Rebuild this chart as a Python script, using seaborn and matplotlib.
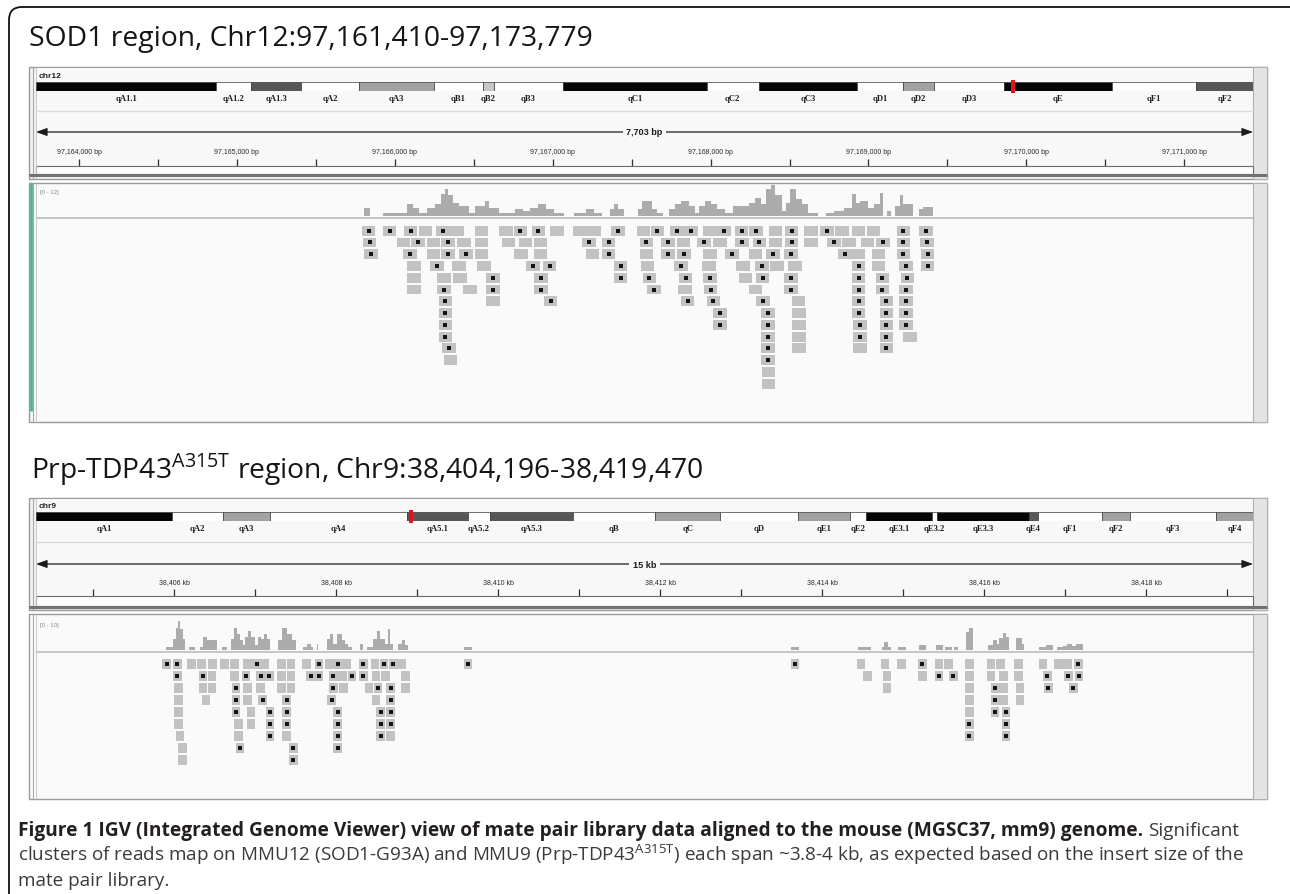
import matplotlib
matplotlib.use("Agg")
import matplotlib.pyplot as plt
from matplotlib.patches import Rectangle, FancyBboxPatch
import numpy as np
import pandas as pd
import seaborn as sns

sns.set_theme(style="white")
plt.rcParams["font.family"] = ["Open Sans", "DejaVu Sans"]

# ============================ DATA ============================
# ---------- Panel 1 : SOD1 region, chr12 ----------
p1_title = "SOD1 region, Chr12:97,161,410-97,173,779"
p1_chrom = "chr12"
p1_band_names = ["qA1.1", "qA1.2", "qA1.3", "qA2", "qA3", "qB1", "qB2", "qB3", "qC1",
                 "qC2", "qC3", "qD1", "qD2", "qD3", "qE", "qF1", "qF2"]
p1_band_ends = [14.8, 17.7, 21.8, 26.5, 32.7, 36.7, 37.6, 43.3, 55.1,
                59.4, 67.5, 71.2, 73.8, 79.5, 88.4, 95.3, 100.0]          # % of chromosome
p1_band_stain = ["gpos100", "gneg", "gpos75", "gneg", "gpos50", "gneg", "gpos33", "gneg", "gpos100",
                 "gneg", "gpos100", "gneg", "gpos50", "gneg", "gpos100", "gneg", "gpos75"]
p1_view_pct = 80.3
# genomic positions: bp after 97,165,000
p1_view = [-1272, 6435]
p1_span_label = "7,703 bp"
p1_major_ticks = [-1000, 0, 1000, 2000, 3000, 4000, 5000, 6000]
p1_tick_labels = ["97,164,000 bp", "97,165,000 bp", "97,166,000 bp", "97,167,000 bp",
                  "97,168,000 bp", "97,169,000 bp", "97,170,000 bp", "97,171,000 bp"]
p1_minor_ticks = [-500, 500, 1500, 2500, 3500, 4500, 5500]
p1_cov_label = "[0 - 12]"
p1_cov_max = 12
p1_cov_edges = [804, 841, 924, 1080, 1118, 1156, 1201, 1256, 1294, 1319,
                1337, 1369, 1407, 1470, 1507, 1570, 1595, 1658, 1759, 1809,
                1859, 1910, 1960, 2010, 2073, 2136, 2211, 2261, 2312, 2362,
                2387, 2412, 2450, 2538, 2563, 2626, 2663, 2701, 2739, 2776,
                2814, 2864, 2902, 2927, 2965, 3003, 3040, 3091, 3141, 3241,
                3279, 3317, 3354, 3380, 3405, 3455, 3480, 3505, 3538, 3581,
                3618, 3681, 3731, 3782, 3845, 3895, 3920, 3945, 3995, 4033,
                4071, 4091, 4116, 4141, 4171, 4201, 4221, 4284, 4322, 4347, 4410]
p1_cov_depth = [3, 0, 1, 4.5, 3, 1, 3, 4.5, 8.5, 10.5,
                8, 5, 4, 1.3, 4, 6, 3, 1.3, 2.6, 2,
                3, 4.5, 2.6, 1.3, 0, 1, 2.6, 1.3, 0, 2.6,
                4.5, 2.6, 0, 2.6, 6, 2.6, 1.3, 0, 2.6, 4.5,
                6, 4, 1.3, 4, 6, 4.5, 2.6, 1.3, 4, 5,
                7, 4.5, 10.5, 12, 8, 2, 5, 10.5, 6.5, 4.5,
                1.3, 0, 1.3, 2, 3, 8.5, 5, 6, 3, 4.5,
                9, 0, 2, 0, 4, 8, 4.5, 0, 2.6, 3.6]
p1_read_len = 86
# read centres per packed row, and whether the read carries a mismatch mark
p1_reads = [
    [834, 967, 1100, 1195, 1306, 1394, 1550, 1703, 1796, 1910, 2028, 2173, 2261, 2412, 2575, 2663,
     2789, 2877, 2995, 3085, 3196, 3287, 3410, 3513, 3636, 3739, 3832, 3938, 4033, 4221, 4365],
    [841, 1055, 1148, 1244, 1337, 1437, 1550, 1721, 1827, 1922, 2229, 2354, 2593, 2731, 2829, 2957,
     3058, 3199, 3309, 3410, 3513, 3636, 3782, 3877, 3995, 4091, 4221, 4372],
    [849, 1098, 1244, 1337, 1450, 1550, 1801, 1922, 2251, 2354, 2593, 2731, 2832, 2995, 3136, 3284,
     3397, 3510, 3850, 3938, 4063, 4221, 4375],
    [1123, 1269, 1407, 1565, 1877, 1980, 2430, 2601, 2814, 2990, 3204, 3324, 3422, 3535, 3938, 4063,
     4239, 4375],
    [1123, 1311, 1412, 1621, 1927, 2430, 2613, 2842, 2995, 3221, 3329, 3510, 3938, 4088, 4247],
    [1123, 1311, 1475, 1621, 1927, 2641, 2839, 3000, 3284, 3510, 3938, 4088, 4239],
    [1321, 1623, 1987, 2854, 3018, 3332, 3556, 3938, 4113, 4239],
    [1321, 3060, 3362, 3561, 3938, 4113, 4239],
    [1321, 3060, 3362, 3561, 3945, 4113, 4239],
    [1321, 3362, 3561, 3945, 4113, 4264],
    [1344, 3362, 3561, 3945, 4113],
    [1352, 3362],
    [3367],
    [3367],
]
p1_marks = [
    [1, 1, 1, 0, 1, 0, 0, 0, 1, 1, 0, 0, 0, 1, 0, 1, 1, 1, 0, 1, 1, 1, 0, 1, 0, 1, 0, 0, 0, 1, 1],
    [1, 0, 1, 0, 1, 0, 0, 0, 0, 0, 1, 1, 1, 1, 0, 1, 0, 1, 1, 0, 1, 0, 1, 0, 0, 1, 1, 1],
    [1, 1, 0, 1, 1, 0, 0, 0, 0, 1, 0, 1, 1, 0, 1, 0, 1, 1, 1, 0, 0, 1, 1],
    [0, 1, 0, 0, 1, 1, 1, 0, 1, 0, 0, 1, 0, 0, 1, 0, 1, 1],
    [0, 0, 0, 1, 1, 1, 1, 1, 1, 0, 1, 1, 1, 1, 1],
    [0, 1, 0, 1, 1, 1, 0, 1, 0, 1, 1, 1, 1],
    [1, 0, 1, 1, 1, 1, 0, 1, 1, 1],
    [1, 1, 1, 0, 1, 1, 1],
    [1, 1, 1, 0, 1, 1, 1],
    [1, 1, 0, 1, 1, 0],
    [1, 1, 0, 0, 1],
    [0, 1],
    [0],
    [0],
]

# ---------- Panel 2 : Prp-TDP43 A315T region, chr9 ----------
p2_title = r"Prp-TDP43$^{\mathregular{A315T}}$ region, Chr9:38,404,196-38,419,470"
p2_chrom = "chr9"
p2_band_names = ["qA1", "qA2", "qA3", "qA4", "qA5.1", "qA5.2", "qA5.3", "qB", "qC", "qD",
                 "qE1", "qE2", "qE3.1", "qE3.2", "qE3.3", "qE4", "qF1", "qF2", "qF3", "qF4"]
p2_band_ends = [11.2, 15.4, 19.2, 30.5, 35.5, 37.3, 44.1, 50.9, 56.2, 62.6,
                66.9, 68.2, 73.6, 74.0, 81.6, 82.3, 87.6, 89.9, 97.0, 100.0]
p2_band_stain = ["gpos100", "gneg", "gpos50", "gneg", "gpos75", "gneg", "gpos75", "gneg", "gpos50", "gneg",
                 "gpos50", "gneg", "gpos100", "gneg", "gpos100", "gpos75", "gneg", "gpos50", "gneg", "gpos50"]
p2_view_pct = 30.8
# genomic positions: bp after 38,404,000
p2_view = [296, 15321]
p2_span_label = "15 kb"
p2_major_ticks = [2000, 4000, 6000, 8000, 10000, 12000, 14000]
p2_tick_labels = ["38,406 kb", "38,408 kb", "38,410 kb", "38,412 kb",
                  "38,414 kb", "38,416 kb", "38,418 kb"]
p2_minor_ticks = [1000, 3000, 5000, 7000, 9000, 11000, 13000, 15000]
p2_cov_label = "[0 - 10]"
p2_cov_max = 10
p2_cov_edges = [1901, 1992, 2024, 2053, 2074, 2107, 2136, 2189, 2259, 2321,
                2354, 2403, 2465, 2526, 2588, 2658, 2699, 2740, 2773, 2815,
                2847, 2876, 2917, 2950, 3000, 3033, 3070, 3111, 3144, 3185,
                3288, 3329, 3391, 3452, 3506, 3596, 3638, 3687, 3720, 3761,
                3782, 3884, 3926, 3967, 4008, 4070, 4111, 4152, 4193, 4296,
                4337, 4378, 4461, 4502, 4543, 4605, 4637, 4666, 4707, 4769,
                4810, 4851, 4893, 5580, 5680,
                9618, 9716, 10449, 10605, 10737, 10766, 10819, 10848, 10943, 11033,
                11202, 11284, 11408, 11490, 11519, 11601, 11634, 11683, 11774, 11819,
                11869, 12054, 12116, 12157, 12190, 12231, 12272, 12313, 12395, 12465,
                12494, 12683, 12766, 12856, 12897, 12980, 13029, 13083, 13136, 13218]
p2_cov_depth = [1, 3.4, 7, 9, 6.5, 3.5, 0, 1, 0, 1,
                4, 3, 3, 0, 1, 0, 3.5, 7, 5, 3,
                1.5, 4, 6, 4, 1.5, 4, 3.5, 5, 3.5, 0,
                3, 7, 5, 3, 0, 1, 2, 1, 0, 2,
                0, 3.5, 5, 2, 5, 3, 2, 1, 0, 2,
                0, 1, 3.5, 6, 3.5, 2, 6.5, 2, 0, 2,
                3, 1.5, 0, 1, 0,
                1, 0, 1, 0, 1, 2.6, 1, 0, 1, 0,
                1.6, 0, 1.6, 0, 1, 0, 1, 0, 5.5, 7,
                0, 1.6, 3, 1.8, 3.6, 5.2, 4.2, 0, 3.6, 1.8,
                0, 1, 1.6, 0, 1, 1.4, 1.8, 1.4, 1.8]
p2_read_len = 104
p2_reads = [
    [1909, 2041, 2218, 2341, 2477, 2621, 2745, 2905, 3020, 3123, 3329, 3444, 3638, 3790, 3917, 4024,
     4131, 4337, 4480, 4595, 4700, 4810, 5630, 9667, 10482, 10778, 10984, 11239, 11445, 11560, 11819,
     12087, 12206, 12424, 12725, 12920, 13030, 13165],
    [2041, 2360, 2470, 2745, 2889, 3070, 3177, 3329, 3444, 3687, 3790, 3967, 4082, 4197, 4337, 4493,
     4613, 4860, 10560, 10799, 11239, 11445, 11622, 11819, 12087, 12239, 12424, 12782, 13041, 13173],
    [2053, 2360, 2470, 2765, 2905, 3070, 3329, 3444, 3967, 4090, 4405, 4515, 4674, 4860, 10799, 11819,
     12136, 12239, 12445, 12794, 13103],
    [2053, 2395, 2765, 2905, 3094, 3391, 3946, 4493, 4674, 11819, 12136, 12239, 12445],
    [2053, 2765, 2950, 3185, 3391, 4020, 4551, 4674, 11819, 12136, 12268],
    [2053, 2794, 2950, 3185, 3391, 4020, 4551, 4674, 11819, 12268],
    [2074, 2794, 3185, 3391, 4020, 4551, 4674, 11819, 12268],
    [2103, 2815, 3473, 4020],
    [2103, 3473],
]
p2_marks = [
    [1, 1, 0, 0, 0, 0, 0, 0, 1, 0, 0, 0, 0, 1, 0, 1, 0, 1, 0, 1, 1, 0,
     1, 1, 0, 0, 0, 1, 0, 0, 0, 0, 0, 0, 0, 0, 0, 1],
    [1, 1, 0, 0, 1, 1, 1, 0, 0, 1, 1, 1, 0, 1, 1, 0, 0, 0,
     0, 0, 0, 1, 1, 0, 0, 0, 0, 1, 1, 1],
    [0, 0, 0, 1, 0, 0, 0, 0, 1, 0, 0, 1, 1, 0, 0, 0, 1, 0, 0, 1, 1],
    [0, 0, 1, 0, 1, 1, 1, 0, 1, 0, 1, 0, 0],
    [0, 1, 0, 1, 1, 1, 1, 1, 0, 1, 1],
    [0, 0, 0, 1, 1, 1, 1, 1, 1, 1],
    [0, 0, 1, 0, 1, 1, 0, 1, 1],
    [0, 1, 1, 1],
    [0, 1],
]

# ---------- Caption ----------
cap_bold = ("Figure 1 IGV (Integrated Genome Viewer) view of mate pair library data "
            "aligned to the mouse (MGSC37, mm9) genome.")
cap_line1_rest = "Significant"
cap_line2 = (r"clusters of reads map on MMU12 (SOD1-G93A) and MMU9 (Prp-TDP43$^{\mathregular{A315T}}$) "
             r"each span ~3.8-4 kb, as expected based on the insert size of the")
cap_line3 = "mate pair library."

# ============================ STYLE ============================
W, H = 1290, 895
STAIN = {"gneg": "#ffffff", "gpos33": "#c6c6c6", "gpos50": "#a2a2a2",
         "gpos75": "#575757", "gpos100": "#050505"}
BG_HDR, BG_IN, BG_TRK = "#f2f2f2", "#f8f8f8", "#fafafa"
FRAME = "#9a9a9a"
READ_C, COV_C, MARK_C = "#c2c2c2", "#acacac", "#141414"
IGV_FONT = ["Liberation Sans", "DejaVu Sans"]
SERIF = ["Liberation Serif", "DejaVu Serif"]
TITLE_FONT = ["Open Sans", "DejaVu Sans"]
CAP_FONT = ["Open Sans", "DejaVu Sans"]

fig = plt.figure(figsize=(W / 100, H / 100), dpi=100)
fig.patch.set_facecolor("white")
renderer = fig.canvas.get_renderer()

ov = fig.add_axes([0, 0, 1, 1])
ov.set_xlim(0, W)
ov.set_ylim(H, 0)
ov.set_axis_off()


def px_axes(x0, y0, x1, y1):
    ax = fig.add_axes([x0 / W, 1 - y1 / H, (x1 - x0) / W, (y1 - y0) / H])
    ax.set_axis_off()
    return ax


def hline(y, x0, x1, color, lw):
    ov.plot([x0, x1], [y, y], color=color, lw=lw, solid_capstyle="butt")


def vline(x, y0, y1, color, lw):
    ov.plot([x, x], [y0, y1], color=color, lw=lw, solid_capstyle="butt")


X0, X1 = 36, 1253     # data area of IGV panels (pixels)


def draw_header(g, chrom, names, ends, stain, view_pct, view, major, labels, minor, span_label):
    top, bot = g["top"], g["bot"]
    ov.add_patch(Rectangle((29, top), 1238, bot - top, fc=BG_HDR, ec=FRAME, lw=1.0))
    ov.add_patch(Rectangle((X0, top + 1), X1 - X0, bot - top - 2, fc=BG_IN, ec="none"))
    vline(32.5, top, bot, "#a8a8a8", 0.8)
    vline(35.5, top, bot, "#c4c4c4", 0.6)
    ov.add_patch(Rectangle((X1, top), 1267 - X1, bot - top, fc="#e4e4e4", ec="#b0b0b0", lw=0.8))
    ov.text(39, g["label"], chrom, fontsize=6, fontweight="bold", family=IGV_FONT,
            color="#222222", va="center", ha="left")
    hline(g["sep"], X0, X1, "#dadada", 1.0)
    # ideogram
    ia = px_axes(X0, g["ideo"][0], X1, g["ideo"][1])
    starts = [0.0] + ends[:-1]
    widths = [e - s for s, e in zip(starts, ends)]
    ia.bar(starts, [1] * len(starts), width=widths, bottom=0, align="edge",
           color=[STAIN[s] for s in stain], edgecolor="#3a3a3a", linewidth=0.5)
    for s, w, n in zip(starts, widths, names):
        ia.text(s + w / 2, -0.78, n, ha="center", va="center", fontsize=6.2, fontweight="bold",
                family=SERIF, color="#1e1e1e", clip_on=False)
    mk = ia.bar([view_pct], [1.5], width=0.32, bottom=-0.25, color="#e0141c", linewidth=0, zorder=4)
    for p in mk:
        p.set_clip_on(False)
    ia.set_xlim(0, 100)
    ia.set_ylim(0, 1)
    # ruler
    r0, r1 = g["ruler"]
    ra = px_axes(X0, r0, X1, r1)
    hgt = r1 - r0
    ra.set_xlim(*view)
    ra.set_ylim(0, 1)
    ya = (r1 - g["arrow"]) / hgt
    yl = (r1 - g["tlab"]) / hgt
    tl = 7.0 / hgt
    ra.vlines(major + minor, 0, tl, color="#303030", lw=0.9)
    for p, lab in zip(major, labels):
        ra.text(p, yl, lab, ha="center", va="center", fontsize=5.0, family=IGV_FONT,
                color="#2a2a2a")
    ra.annotate("", xy=(view[1], ya), xytext=(view[0], ya),
                arrowprops=dict(arrowstyle="<|-|>,head_length=0.55,head_width=0.2",
                                lw=0.9, color="#1c1c1c", shrinkA=0, shrinkB=0))
    ra.text((view[0] + view[1]) / 2, ya, span_label, ha="center", va="center", fontsize=6.6,
            fontweight="bold", family=IGV_FONT, color="#1c1c1c",
            bbox=dict(fc=BG_IN, ec="none", pad=2.5), zorder=5)
    # sequence box + thick divider
    b0, b1 = g["box"]
    ov.add_patch(Rectangle((X0, b0), X1 - X0, b1 - b0, fc="#fdfdfd", ec="#6c6c6c", lw=0.8))
    hline(b1 + 1.4, 29, 1267, "#727272", 2.2)


def reads_frame(rows, marks):
    rec = []
    for r, (plist, mlist) in enumerate(zip(rows, marks)):
        for p, m in zip(plist, mlist):
            rec.append((p, r, m))
    return pd.DataFrame(rec, columns=["pos", "row", "mark"])


def draw_tracks(g, view, cov_edges, cov_depth, cov_max, cov_label, rows, marks, read_len, teal):
    top, bot = g["top"], g["bot"]
    ov.add_patch(Rectangle((29, top), 1238, bot - top, fc=BG_TRK, ec=FRAME, lw=1.0))
    vline(32.5, top, bot, "#a8a8a8", 0.8)
    vline(35.5, top, bot, "#c4c4c4", 0.6)
    if teal:
        vline(30.6, top, bot - 11, "#4fb393", 2.0)
    ov.add_patch(Rectangle((X1, top), 1267 - X1, bot - top, fc="#e4e4e4", ec="#b0b0b0", lw=0.8))
    hline(g["sep"], X0, X1, "#c2c2c2", 1.3)
    ov.text(40, g["rlabel"], cov_label, fontsize=4.3, family=IGV_FONT, color="#8a8a8a",
            va="center", ha="left")
    # coverage
    ca = px_axes(X0, g["cov"][0], X1, g["cov"][1])
    edges = [float(e) for e in cov_edges]
    cov_df = pd.DataFrame({"mid": [(a + b) / 2 for a, b in zip(edges[:-1], edges[1:])],
                           "depth": cov_depth})
    sns.histplot(data=cov_df, x="mid", weights="depth", bins=edges, element="step", fill=True,
                 color=COV_C, alpha=1, linewidth=0, ax=ca)
    ca.set_xlim(*view)
    ca.set_ylim(0, cov_max)
    ca.set_axis_off()
    # reads
    y0, y1 = g["reads"]
    ra = px_axes(X0, y0, X1, y1)
    df = reads_frame(rows, marks)
    ra.barh(df["row"], width=read_len, left=df["pos"] - read_len / 2, height=0.84,
            color=READ_C, linewidth=0)
    sns.scatterplot(data=df[df["mark"] == 1], x="pos", y="row", marker="s", s=5,
                    color=MARK_C, linewidth=0, ax=ra, legend=False, zorder=3)
    ra.set_xlim(*view)
    ra.set_ylim((y1 - g["row0"]) / g["drow"], (y0 - g["row0"]) / g["drow"])
    ra.set_axis_off()


g1h = dict(top=68, bot=180, label=76, ideo=(83, 92), sep=112, ruler=(113, 167),
           arrow=133, tlab=152.5, box=(167, 175))
g1t = dict(top=184, bot=423, cov=(186, 217), sep=219, rlabel=192, reads=(221, 421),
           row0=231.7, drow=11.77)
g2h = dict(top=499, bot=611, label=507, ideo=(513, 522), sep=543, ruler=(544, 597),
           arrow=565, tlab=583, box=(597, 607))
g2t = dict(top=615, bot=800, cov=(619, 651), sep=652.5, rlabel=626, reads=(655, 798),
           row0=665, drow=12.0)

draw_header(g1h, p1_chrom, p1_band_names, p1_band_ends, p1_band_stain, p1_view_pct, p1_view,
            p1_major_ticks, p1_tick_labels, p1_minor_ticks, p1_span_label)
draw_tracks(g1t, p1_view, p1_cov_edges, p1_cov_depth, p1_cov_max, p1_cov_label,
            p1_reads, p1_marks, p1_read_len, True)
draw_header(g2h, p2_chrom, p2_band_names, p2_band_ends, p2_band_stain, p2_view_pct, p2_view,
            p2_major_ticks, p2_tick_labels, p2_minor_ticks, p2_span_label)
draw_tracks(g2t, p2_view, p2_cov_edges, p2_cov_depth, p2_cov_max, p2_cov_label,
            p2_reads, p2_marks, p2_read_len, False)

# ============================ TEXT ============================
ov.add_patch(FancyBboxPatch((9, 8), 1320, 910, boxstyle="round,pad=0,rounding_size=13",
                            fc="none", ec="#111111", lw=1.3))


def fit(t, target):
    w = t.get_window_extent(renderer).width
    t.set_fontsize(t.get_fontsize() * target / w)
    return t.get_fontsize()


t1 = ov.text(29, 46, p1_title, fontsize=16, family=TITLE_FONT, color="#151515", va="baseline")
tsz = fit(t1, 564)
ov.text(31, 479, p2_title, fontsize=tsz, family=TITLE_FONT, color="#151515", va="baseline")

# caption: justified paragraph, left 18 px .. right 1239 px
c2 = ov.text(18, 861, cap_line2, fontsize=12, family=CAP_FONT, color="#3a3a3a", va="baseline")
csz = fit(c2, 1221)
sig = ov.text(1239, 836, cap_line1_rest, fontsize=csz, family=CAP_FONT, color="#3a3a3a",
              va="baseline", ha="right")
sig_x0 = sig.get_window_extent(renderer).x0
cb = ov.text(18, 836, cap_bold, fontsize=12, fontweight="bold", family=CAP_FONT,
             color="#231f20", va="baseline")
fit(cb, sig_x0 - 18 - 7)
ov.text(18, 886, cap_line3, fontsize=csz, family=CAP_FONT, color="#3a3a3a", va="baseline")

fig.savefig("out.png", dpi=100)
